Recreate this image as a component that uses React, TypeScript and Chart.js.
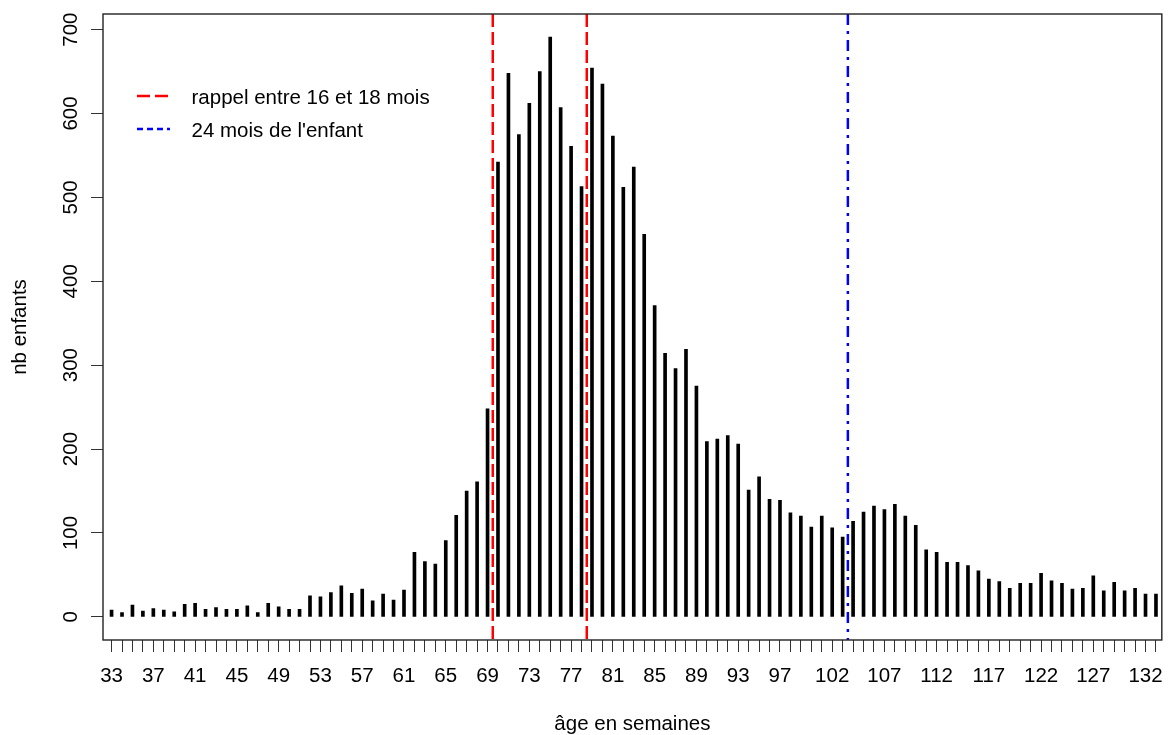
import { useEffect, useRef } from "react";
import { Chart, registerables } from "chart.js";

Chart.register(...registerables);

// Number of children per age in weeks (one bar per week, starting at week 33)
const FIRST_WEEK = 33;
const counts = [
  8, 5, 14, 7, 10, 8, 6, 15, 16, 9,
  11, 9, 9, 13, 5, 16, 12, 9, 9, 25,
  24, 29, 37, 28, 33, 19, 27, 20, 32, 77,
  66, 63, 91, 121, 150, 161, 248, 542, 648, 575,
  612, 650, 691, 607, 561, 513, 654, 635, 573, 512,
  536, 456, 371, 314, 296, 319, 275, 209, 212, 216,
  206, 151, 167, 140, 139, 124, 120, 107, 120, 106,
  95, 114, 125, 132, 128, 134, 120, 109, 80, 77,
  65, 65, 61, 55, 45, 42, 34, 40, 40, 52,
  43, 40, 33, 34, 49, 31, 41, 31, 34, 27,
  27,
];
const weeks = counts.map((_, i) => FIRST_WEEK + i);

// Week numbers that carry a text label under the axis
const weekLabels = [
  33, 37, 41, 45, 49, 53, 57, 61, 65, 69, 73, 77, 81, 85, 89, 93, 97,
  102, 107, 112, 117, 122, 127, 132,
];
const yTicks = [0, 100, 200, 300, 400, 500, 600, 700];

// Reference ages (weeks)
const rappelWeeks = [69.5, 78.5];
const deuxAnsWeek = 103.5;

const legendItems = [
  { label: "rappel entre 16 et 18 mois", color: "#FF0000", dash: [13, 5] },
  { label: "24 mois de l'enfant", color: "#0000FF", dash: [6, 4, 6, 4] },
];

const X_MIN = 32.18;
const X_MAX = 133.56;
const Y_MIN = -27.6;
const Y_MAX = 718.6;

const FONT_FAMILY = '"Liberation Sans", Arial, sans-serif';
const FONT_SIZE = 20.5;
const FONT = `${FONT_SIZE}px ${FONT_FAMILY}`;

const RED_DASH = [13, 5];
const BLUE_DASH = [11, 6, 3, 6];

function vline(x: number, color: string, dash: number[]) {
  return {
    type: "line" as const,
    data: [
      { x, y: Y_MAX },
      { x, y: Y_MIN },
    ],
    borderColor: color,
    borderWidth: 2.5,
    borderDash: dash,
    pointRadius: 0,
    fill: false,
    order: 0,
  };
}

// Frame around the plotting region
const boxPlugin = {
  id: "plotBox",
  afterDraw(chart: any) {
    const { ctx, chartArea } = chart;
    ctx.save();
    ctx.strokeStyle = "#222";
    ctx.lineWidth = 1.4;
    ctx.strokeRect(
      chartArea.left,
      chartArea.top,
      chartArea.right - chartArea.left,
      chartArea.bottom - chartArea.top
    );
    ctx.restore();
  },
};

// Y tick values written parallel to the axis
const yTextPlugin = {
  id: "yTickText",
  afterDraw(chart: any) {
    const { ctx } = chart;
    const y = chart.scales.y;
    ctx.save();
    ctx.font = FONT;
    ctx.fillStyle = "#000";
    ctx.textAlign = "center";
    ctx.textBaseline = "alphabetic";
    for (const v of yTicks) {
      const py = y.getPixelForValue(v);
      ctx.save();
      ctx.translate(y.right - 26.5, py);
      ctx.rotate(-Math.PI / 2);
      ctx.fillText(String(v), 0, 0);
      ctx.restore();
    }
    ctx.restore();
  },
};

// Legend in the upper-left corner of the plot, without a frame
const legendPlugin = {
  id: "lineLegend",
  afterDraw(chart: any) {
    const { ctx, chartArea } = chart;
    const x0 = chartArea.left + 34;
    const y0 = chartArea.top + 82;
    ctx.save();
    legendItems.forEach((it, i) => {
      const y = y0 + i * 33;
      ctx.strokeStyle = it.color;
      ctx.lineWidth = 2.5;
      ctx.setLineDash(it.dash);
      ctx.beginPath();
      ctx.moveTo(x0, y);
      ctx.lineTo(x0 + 33, y);
      ctx.stroke();
      ctx.setLineDash([]);
      ctx.font = FONT;
      ctx.fillStyle = "#000";
      ctx.textAlign = "left";
      ctx.textBaseline = "alphabetic";
      ctx.fillText(it.label, x0 + 54.5, y + 7.5);
    });
    ctx.restore();
  },
};

export default function App() {
  const canvasRef = useRef<HTMLCanvasElement>(null);

  useEffect(() => {
    document.body.style.margin = "0";
    const canvas = canvasRef.current;
    if (!canvas) return;

    const chart = new Chart(canvas, {
      type: "bar",
      data: {
        datasets: [
          ...rappelWeeks.map((w) => vline(w, "#FF0000", RED_DASH)),
          vline(deuxAnsWeek, "#0000FF", BLUE_DASH),
          {
            type: "bar" as const,
            data: weeks.map((w, i) => ({ x: w, y: counts[i] })),
            backgroundColor: "#000",
            borderWidth: 0,
            barThickness: 3,
            order: 1,
          },
        ] as any,
      },
      options: {
        responsive: false,
        animation: false,
        devicePixelRatio: 1,
        events: [],
        layout: { padding: { left: 0, top: 14, right: 6, bottom: 0 } },
        plugins: {
          legend: { display: false },
          tooltip: { enabled: false },
        },
        scales: {
          x: {
            type: "linear",
            min: X_MIN,
            max: X_MAX,
            offset: false,
            afterBuildTicks: (scale: any) => {
              scale.ticks = weeks.map((w) => ({ value: w }));
            },
            afterFit: (scale: any) => {
              scale.height = 95;
            },
            grid: {
              display: true,
              offset: false,
              drawOnChartArea: false,
              drawTicks: true,
              tickLength: 12,
              tickColor: "#333",
              tickWidth: 1,
            },
            border: { display: false },
            ticks: {
              autoSkip: false,
              includeBounds: false,
              maxRotation: 0,
              minRotation: 0,
              padding: 12,
              color: "#000",
              font: { family: FONT_FAMILY, size: FONT_SIZE },
              callback: (value: any) =>
                weekLabels.includes(Number(value)) ? String(value) : "",
            },
            title: {
              display: true,
              text: "âge en semaines",
              color: "#000",
              font: { family: FONT_FAMILY, size: FONT_SIZE, lineHeight: 1 },
              padding: { top: 0, bottom: 0 },
            },
          },
          y: {
            type: "linear",
            min: Y_MIN,
            max: Y_MAX,
            afterBuildTicks: (scale: any) => {
              scale.ticks = yTicks.map((v) => ({ value: v }));
            },
            afterFit: (scale: any) => {
              scale.width = 103;
            },
            grid: {
              display: true,
              drawOnChartArea: false,
              drawTicks: true,
              tickLength: 12,
              tickColor: "#333",
              tickWidth: 1,
            },
            border: { display: false },
            ticks: { display: false },
            title: {
              display: true,
              text: "nb enfants",
              color: "#000",
              font: { family: FONT_FAMILY, size: FONT_SIZE, lineHeight: 1 },
              padding: { top: 10.5, bottom: 0 },
            },
          },
        },
      } as any,
      plugins: [boxPlugin, yTextPlugin, legendPlugin],
    });

    return () => chart.destroy();
  }, []);

  return (
    <div style={{ width: 1168, height: 735, background: "#fff" }}>
      <canvas
        ref={canvasRef}
        width={1168}
        height={735}
        style={{ display: "block", width: 1168, height: 735 }}
      />
    </div>
  );
}
